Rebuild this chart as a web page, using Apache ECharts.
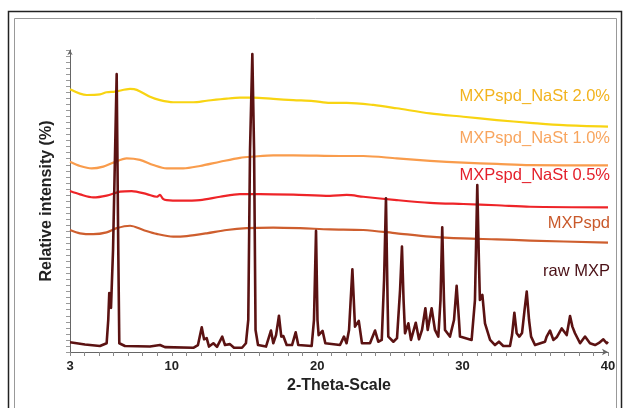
<!DOCTYPE html>
<html>
<head>
<meta charset="utf-8">
<script src="https://cdn.jsdelivr.net/npm/echarts@6/dist/echarts.min.js"></script>
<style>
  html, body { margin: 0; padding: 0; background: #fff; }
  #main { width: 624px; height: 408px; }
</style>
</head>
<body>
<div id="main"></div>
<script>
// 2-theta positions and relative intensities
var rawTheta = [3.00, 4.03, 5.06, 5.52, 5.63, 5.70, 5.82, 5.96, 6.21, 6.32, 6.39, 6.78, 8.50, 9.19, 9.53,
  11.48, 11.80, 12.06, 12.22, 12.40, 12.56, 12.86, 13.11, 13.47, 13.66, 14.00, 14.28, 14.83, 15.10, 15.26,
  15.38, 15.54, 15.66, 15.76, 15.93, 16.48, 16.82, 16.98, 17.17, 17.37, 17.53, 17.67, 17.90, 18.27, 18.52,
  18.70, 19.62, 19.78, 19.92, 20.02, 20.10, 20.37, 20.56, 21.57, 21.84, 22.02, 22.19, 22.42, 22.60, 22.86,
  23.08, 23.63, 23.98, 24.20, 24.44, 24.60, 24.73, 24.84, 24.89, 25.24, 25.49, 25.70, 25.83, 25.94, 26.04,
  26.27, 26.45, 26.78, 27.00, 27.21, 27.44, 27.60, 27.87, 28.10, 28.33, 28.48, 28.60, 28.72, 28.79, 29.13,
  29.41, 29.59, 29.75, 29.82, 30.62, 30.85, 31.01, 31.12, 31.19, 31.36, 31.54, 31.89, 32.23, 32.50, 32.80,
  33.26, 33.40, 33.56, 33.72, 33.90, 34.09, 34.26, 34.41, 34.57, 34.71, 34.98, 35.67, 35.78, 35.88, 36.01,
  36.24, 36.49, 36.82, 37.16, 37.39, 37.55, 37.73, 38.08, 38.42, 38.76, 39.11, 39.38, 39.68, 39.91, 40.00];
var rawMXP = [3.2, 2.5, 2.0, 2.9, 10.6, 19.5, 14.6, 33.8, 92.0, 33.8, 2.9, 2.0, 1.8, 2.3, 1.6,
  1.4, 2.3, 8.2, 4.2, 4.6, 1.8, 2.9, 1.7, 5.1, 2.3, 2.6, 1.4, 1.4, 2.9, 10.6,
  66.9, 98.7, 66.9, 7.3, 2.3, 1.8, 7.1, 2.9, 5.6, 12.0, 5.1, 5.3, 2.3, 2.3, 6.5,
  2.3, 2.0, 10.6, 40.1, 10.6, 5.6, 7.0, 2.9, 2.3, 5.1, 2.9, 7.3, 27.4, 8.4, 10.3,
  2.9, 2.9, 7.1, 3.4, 4.0, 23.8, 50.9, 17.2, 5.1, 3.4, 4.6, 20.5, 34.9, 17.2, 6.2,
  9.5, 4.0, 9.7, 4.2, 7.3, 14.5, 7.3, 14.5, 7.3, 5.1, 17.2, 41.3, 17.2, 7.3, 5.1,
  10.6, 21.9, 10.6, 5.1, 4.0, 17.2, 55.3, 30.5, 17.2, 18.9, 9.5, 4.0, 2.3, 3.4, 2.0,
  2.0, 5.6, 13.0, 6.2, 5.1, 6.3, 13.9, 20.0, 10.6, 5.1, 2.3, 3.4, 5.1, 4.6, 7.1,
  4.0, 5.0, 7.8, 5.6, 11.9, 8.4, 6.2, 2.9, 5.1, 2.9, 2.3, 3.0, 4.2, 2.9, 3.4];

var spdTheta = [3.00, 3.69, 4.60, 5.52, 6.21, 7.13, 8.04, 8.96, 10.10, 11.03, 12.40, 13.78, 15.15, 16.98,
  18.82, 20.88, 23.17, 25.47, 27.76, 30.05, 32.35, 34.64, 40.00];
var spd = [40.4, 39.3, 39.0, 39.6, 41.0, 41.8, 40.4, 39.1, 38.2, 38.4, 39.3, 40.4, 41.0, 41.2,
  41.0, 40.6, 40.4, 39.3, 38.2, 37.6, 37.3, 36.9, 36.2];

var nast05Theta = [3.00, 3.69, 4.60, 5.52, 6.44, 7.24, 8.28, 8.96, 9.19, 9.40, 9.65, 10.57, 11.94, 13.32,
  14.69, 16.07, 18.36, 20.88, 22.03, 23.17, 25.47, 27.76, 30.05, 32.35, 34.64, 40.00];
var nast05 = [53.3, 52.2, 51.2, 51.8, 53.1, 53.3, 52.3, 51.4, 52.0, 50.7, 50.3, 50.1, 50.3, 51.4,
  52.3, 52.3, 52.1, 51.7, 52.0, 51.4, 50.3, 49.4, 49.0, 48.6, 48.1, 47.9];

var nast10Theta = [3.00, 3.69, 4.49, 5.29, 5.98, 6.90, 7.81, 8.73, 9.65, 10.79, 11.94, 13.32, 14.69, 15.61,
  16.98, 18.36, 21.57, 23.17, 25.47, 27.76, 30.05, 32.35, 34.64, 40.00];
var nast10 = [63.0, 61.6, 60.8, 61.4, 62.7, 64.1, 63.6, 61.9, 60.8, 60.8, 61.6, 63.0, 64.3, 64.7,
  65.1, 65.1, 64.9, 64.9, 64.1, 63.3, 62.7, 62.3, 61.9, 61.8];

var nast20Theta = [3.00, 4.15, 5.06, 5.52, 6.09, 7.13, 7.59, 8.50, 9.19, 10.10, 11.48, 12.40, 13.78, 14.69,
  15.59, 16.98, 18.36, 19.73, 20.88, 22.03, 23.86, 25.47, 27.76, 30.05, 32.35, 34.64, 36.93, 40.00];
var nast20 = [87.0, 85.1, 85.3, 86.0, 86.2, 87.1, 86.8, 84.5, 83.4, 82.7, 82.7, 83.2, 83.9, 84.2,
  84.2, 83.8, 83.4, 83.1, 82.5, 82.5, 81.8, 80.7, 79.0, 77.9, 76.8, 75.9, 75.1, 74.6];

var xTickLabels = [3, 10, 20, 30, 40];
var seriesNames = ['MXPspd_NaSt 2.0%', 'MXPspd_NaSt 1.0%', 'MXPspd_NaSt 0.5%', 'MXPspd', 'raw MXP'];

function pairs(xs, ys) {
  return xs.map(function (x, i) { return [x, ys[i]]; });
}

var chart = echarts.init(document.getElementById('main'), null, { renderer: 'canvas' });

var lineColors = ['#F8D412', '#F99C4C', '#EE2428', '#CE5E2E', '#5B1212'];
var labelColors = ['#F2B31E', '#F8A55E', '#E41F2A', '#C95A2C', '#4A1016'];
var labelY = [98, 140, 177, 225, 273];

var graphics = [
  // picture frames
  { type: 'rect', shape: { x: 8.5, y: 11.5, width: 613, height: 410 }, style: { fill: 'none', stroke: '#222', lineWidth: 1.5 } },
  { type: 'rect', shape: { x: 14.5, y: 18.5, width: 602, height: 400 }, style: { fill: 'none', stroke: '#999', lineWidth: 1 } }
];
for (var i = 0; i < seriesNames.length; i++) {
  graphics.push({
    type: 'text',
    right: 14,
    top: labelY[i] - 10,
    style: {
      text: seriesNames[i],
      fill: labelColors[i],
      font: '16.5px "Liberation Sans", Arial, sans-serif'
    }
  });
}

var option = {
  animation: false,
  backgroundColor: '#fff',
  grid: { left: 70, right: 16, top: 50, bottom: 56, containLabel: false },
  xAxis: {
    type: 'value',
    min: 3,
    max: 40,
    interval: 1,
    name: '2-Theta-Scale',
    nameLocation: 'middle',
    nameGap: 20,
    nameTextStyle: { fontFamily: '"Liberation Sans", Arial', fontWeight: 'bold', fontSize: 16, color: '#222' },
    axisLine: { lineStyle: { color: '#666', width: 1 }, symbol: ['none', 'arrow'], symbolSize: [5, 6] },
    axisTick: { length: 4, lineStyle: { color: '#888' } },
    axisLabel: {
      interval: 0,
      margin: 8,
      fontFamily: '"Liberation Sans", Arial',
      fontWeight: 'bold',
      fontSize: 13,
      color: '#222',
      formatter: function (v) {
        return xTickLabels.indexOf(v) >= 0 ? String(v) : '';
      }
    },
    splitLine: { show: false }
  },
  yAxis: {
    type: 'value',
    min: 0,
    max: 100,
    interval: 2,
    name: 'Relative intensity (%)',
    nameLocation: 'middle',
    nameGap: 15,
    nameTextStyle: { fontFamily: '"Liberation Sans", Arial', fontWeight: 'bold', fontSize: 16, color: '#222' },
    axisLine: { show: true, lineStyle: { color: '#666', width: 1 }, symbol: ['none', 'arrow'], symbolSize: [4, 5] },
    axisTick: { show: true, length: 4, lineStyle: { color: '#999' } },
    axisLabel: { show: false },
    splitLine: { show: false }
  },
  series: [
    { name: seriesNames[0], type: 'line', data: pairs(nast20Theta, nast20), smooth: 0.3 },
    { name: seriesNames[1], type: 'line', data: pairs(nast10Theta, nast10), smooth: 0.3 },
    { name: seriesNames[2], type: 'line', data: pairs(nast05Theta, nast05), smooth: 0.3 },
    { name: seriesNames[3], type: 'line', data: pairs(spdTheta, spd), smooth: 0.3 },
    { name: seriesNames[4], type: 'line', data: pairs(rawTheta, rawMXP), smooth: false }
  ].map(function (s, i) {
    s.showSymbol = false;
    s.symbol = 'none';
    s.lineStyle = { color: lineColors[i], width: i === 4 ? 2.6 : 2.2, join: 'round' };
    s.itemStyle = { color: lineColors[i] };
    return s;
  }),
  graphic: graphics
};

chart.setOption(option);
</script>
</body>
</html>
